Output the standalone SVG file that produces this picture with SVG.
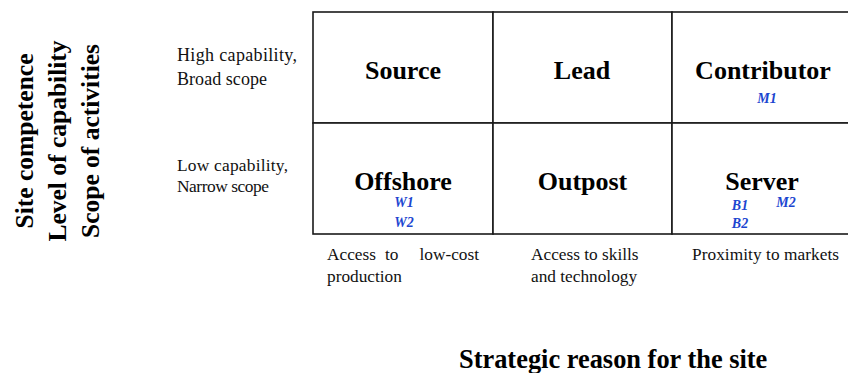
<svg xmlns="http://www.w3.org/2000/svg" width="848" height="373" viewBox="0 0 848 373">
  <style>
    .cell { fill: #ffffff; stroke: #1a1a1a; stroke-width: 1.6; }
    .title { font-family: "Liberation Serif", "Times New Roman", serif; font-weight: bold; font-size: 26px; fill: #000000; text-anchor: middle; }
    .axis { font-family: "Liberation Serif", "Times New Roman", serif; font-weight: bold; font-size: 25.5px; fill: #000000; text-anchor: middle; }
    .lbl { font-family: "Liberation Serif", "Times New Roman", serif; font-size: 17.3px; fill: #111111; }
    .side { font-family: "Liberation Serif", "Times New Roman", serif; font-size: 18px; fill: #111111; }
    .tag { font-family: "Liberation Serif", "Times New Roman", serif; font-weight: bold; font-style: italic; font-size: 14px; fill: #1c46d0; text-anchor: middle; }
  </style>
  <rect width="848" height="373" fill="#ffffff"/>

  <g id="y-axis-label">
    <text class="axis" transform="translate(33,141) rotate(-90)">Site competence</text>
    <text class="axis" transform="translate(66,141) rotate(-90)">Level of capability</text>
    <text class="axis" transform="translate(99,141) rotate(-90)">Scope of activities</text>
  </g>

  <g id="row-high">
    <text class="side" x="177" y="61" textLength="120" lengthAdjust="spacing">High capability,</text>
    <text class="side" x="177" y="85" textLength="90" lengthAdjust="spacing">Broad scope</text>
  </g>
  <g id="row-low">
    <text class="side" x="177" y="171" style="font-size:17.4px" textLength="111" lengthAdjust="spacing">Low capability,</text>
    <text class="side" x="177" y="192" style="font-size:17.4px" textLength="92" lengthAdjust="spacing">Narrow scope</text>
  </g>

  <g id="source">
    <rect class="cell" x="313" y="12" width="180" height="111"/>
    <text class="title" x="403" y="79">Source</text>
  </g>
  <g id="lead">
    <rect class="cell" x="493" y="12" width="179" height="111"/>
    <text class="title" x="582" y="79">Lead</text>
  </g>
  <g id="contributor">
    <rect class="cell" x="672" y="12" width="181" height="111"/>
    <text class="title" x="763" y="79">Contributor</text>
    <text class="tag" x="767" y="103">M1</text>
  </g>
  <g id="offshore">
    <rect class="cell" x="313" y="123" width="180" height="111"/>
    <text class="title" x="403" y="190">Offshore</text>
    <text class="tag" x="404" y="207">W1</text>
    <text class="tag" x="404" y="226.5">W2</text>
  </g>
  <g id="outpost">
    <rect class="cell" x="493" y="123" width="179" height="111"/>
    <text class="title" x="582.5" y="190">Outpost</text>
  </g>
  <g id="server">
    <rect class="cell" x="672" y="123" width="181" height="111"/>
    <text class="title" x="762" y="190">Server</text>
    <text class="tag" x="740" y="210">B1</text>
    <text class="tag" x="740" y="228">B2</text>
    <text class="tag" x="786" y="206.5">M2</text>
  </g>

  <g id="reason-low-cost">
    <text class="lbl" x="327" y="260">Access</text>
    <text class="lbl" x="385" y="260">to</text>
    <text class="lbl" x="479" y="260" text-anchor="end">low-cost</text>
    <text class="lbl" x="327" y="281.5">production</text>
  </g>
  <g id="reason-skills">
    <text class="lbl" x="531" y="260">Access to skills</text>
    <text class="lbl" x="531" y="281.5">and technology</text>
  </g>
  <g id="reason-markets">
    <text class="lbl" x="692" y="260" textLength="147" lengthAdjust="spacing">Proximity to markets</text>
  </g>

  <g id="x-axis-label">
    <text class="title" x="459" y="368" style="text-anchor:start; font-size:26.4px">Strategic reason for the site</text>
  </g>

  <g id="connectors"></g>
</svg>
